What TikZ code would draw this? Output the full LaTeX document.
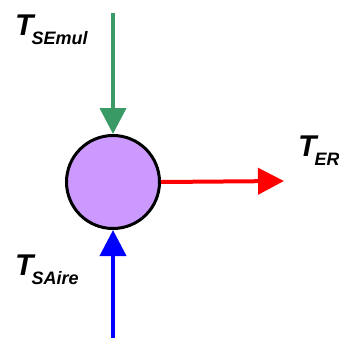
\documentclass[tikz,border=0pt]{standalone}
\usepackage{fontspec}
\setmainfont{Liberation Sans}
\usetikzlibrary{arrows.meta}
\usetikzlibrary{positioning}
\definecolor{emulgreen}{RGB}{58,154,102}
\definecolor{poolviolet}{RGB}{204,153,255}
\tikzstyle{pool}=[
        circle,
        draw=black,
        line width=3pt,
        fill=poolviolet,
        minimum size=93pt,
        inner sep=0pt
]
\tikzstyle{flux}=[line width=4pt,-{Triangle[length=26pt,width=26pt]}]
\tikzstyle{lab}=[anchor=base west,inner sep=0pt,font=\fontsize{30}{30}\selectfont\bfseries\itshape]
\newcommand{\sub}[1]{\raisebox{-9pt}{\fontsize{18}{18}\selectfont #1}}

\begin{document}
\begin{tikzpicture}[x=1pt,y=-1pt]
\useasboundingbox (0,0) rectangle (339,338);
\node[pool] (bal) at (113,182) {};
\coordinate (emul) at (113,13);
\coordinate (air) at (113,338);
\coordinate (er) at (284,181);
%les flux
\draw[flux,emulgreen] (emul) -- (bal.north);
\draw[flux,blue] (air) -- (bal.south);
\draw[flux,red] (bal.east) -- (er);
%les etiquettes
\node[lab] (lemul) at (15,35) {T\kern-2pt\sub{SEmul}};
\node[lab] (ler) at (298,156) {T\kern-2pt\sub{ER}};
\node[lab] (lair) at (15,275) {T\kern-2pt\sub{SAire}};
\end{tikzpicture}
\end{document}
